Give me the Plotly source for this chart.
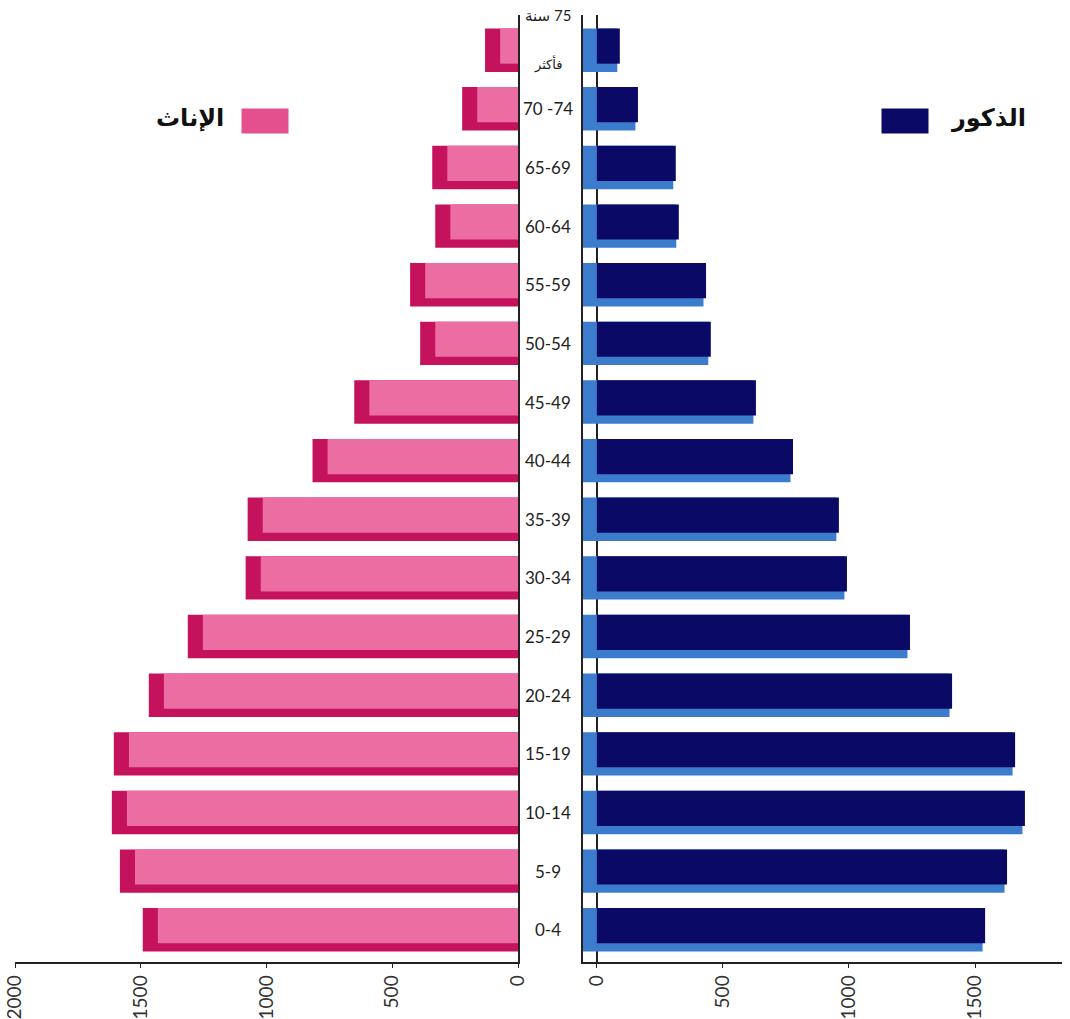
import plotly.graph_objects as go

age_groups = ["0-4", "5-9", "10-14", "15-19", "20-24", "25-29", "30-34", "35-39",
              "40-44", "45-49", "50-54", "55-59", "60-64", "65-69", "70 -74", "75+"]
age_labels = ["0-4", "5-9", "10-14", "15-19", "20-24", "25-29", "30-34", "35-39",
              "40-44", "45-49", "50-54", "55-59", "60-64", "65-69", "70 -74", None]
top_label_line1 = "\u200F75 سنة"
top_label_line2 = "فأكثر"
females = [1492, 1583, 1615, 1607, 1468, 1313, 1083, 1075, 817, 651, 389, 429, 329, 341, 222, 131]
males = [1540, 1627, 1698, 1659, 1409, 1242, 992, 960, 778, 631, 452, 433, 325, 313, 163, 91]
left_ticks = [0, 500, 1000, 1500, 2000]
right_ticks = [0, 500, 1000, 1500]
female_name = "الإناث"
male_name = "الذكور"

F_SIDE = "#c4135c"
F_FRONT = "#ec6da2"
M_SIDE = "#3b7ccd"
M_FRONT = "#0a0a66"
F_DEPTH = 60
M_DEPTH = 55

fig = go.Figure()
# female: dark side/bottom then pink front face
fig.add_trace(go.Bar(y=age_groups, x=females, orientation="h", width=0.74, offset=-0.37,
                     marker=dict(color=F_SIDE, line=dict(width=0)), xaxis="x", yaxis="y",
                     showlegend=False, hoverinfo="skip"))
fig.add_trace(go.Bar(y=age_groups, x=[v - F_DEPTH for v in females], orientation="h",
                     width=0.60, offset=-0.23,
                     marker=dict(color=F_FRONT, line=dict(width=0)), xaxis="x", yaxis="y",
                     showlegend=False, name=female_name))
# male: light blue side/bottom then navy front face
fig.add_trace(go.Bar(y=age_groups, x=[v + M_DEPTH - 10 for v in males], base=-M_DEPTH,
                     orientation="h", width=0.74, offset=-0.37,
                     marker=dict(color=M_SIDE, line=dict(width=0)), xaxis="x2", yaxis="y2",
                     showlegend=False, hoverinfo="skip"))
fig.add_trace(go.Bar(y=age_groups, x=males, base=0, orientation="h", width=0.60, offset=-0.23,
                     marker=dict(color=M_FRONT, line=dict(width=0)), xaxis="x2", yaxis="y2",
                     showlegend=False, name=male_name))

label_font = dict(family="Lato, DejaVu Sans", size=17, color="#222")
annotations = []
for g, lab in zip(age_groups, age_labels):
    if lab is None:
        annotations.append(dict(x=0.512, xref="paper", y=g, yref="y", text=top_label_line1,
                                showarrow=False, xanchor="center", yanchor="middle", yshift=35,
                                font=dict(family="Lato, DejaVu Sans", size=15, color="#222")))
        annotations.append(dict(x=0.512, xref="paper", y=g, yref="y", text=top_label_line2,
                                showarrow=False, xanchor="center", yanchor="middle", yshift=-14,
                                font=dict(family="DejaVu Sans", size=13, color="#222")))
    else:
        annotations.append(dict(x=0.512, xref="paper", y=g, yref="y", text=lab, showarrow=False,
                                xanchor="center", yanchor="middle", font=label_font))
# legend swatches and labels
annotations += [
    dict(x=265 / 1070, y=1 - (121 - 15) / 947, xref="paper", yref="paper", text=" ",
         showarrow=False, width=44, height=22, bgcolor="#e4508e", xanchor="center", yanchor="middle"),
    dict(x=190 / 1070, y=1 - (118 - 15) / 947, xref="paper", yref="paper", text="<b>" + female_name + "</b>",
         showarrow=False, xanchor="center", yanchor="middle",
         font=dict(family="DejaVu Sans", size=24, color="#111")),
    dict(x=905 / 1070, y=1 - (121 - 15) / 947, xref="paper", yref="paper", text=" ",
         showarrow=False, width=44, height=22, bgcolor=M_FRONT, xanchor="center", yanchor="middle"),
    dict(x=988 / 1070, y=1 - (118 - 15) / 947, xref="paper", yref="paper", text="<b>" + male_name + "</b>",
         showarrow=False, xanchor="center", yanchor="middle",
         font=dict(family="DejaVu Sans", size=24, color="#111")),
]

tickfont = dict(family="Lato, DejaVu Sans", size=19, color="#333")
fig.update_layout(
    width=1070, height=1019,
    margin=dict(l=0, r=0, t=15, b=57, autoexpand=False),
    paper_bgcolor="white", plot_bgcolor="white",
    barmode="overlay",
    showlegend=False,
    annotations=annotations,
    xaxis=dict(domain=[15 / 1070, 518 / 1070], range=[2000, 0], tickvals=left_ticks,
               tickangle=-90, showgrid=False, zeroline=False, showline=True, linecolor="#222",
               linewidth=1.5, ticks="outside", ticklen=4, tickcolor="#222", tickfont=tickfont,
               anchor="y", automargin=False),
    xaxis2=dict(domain=[583 / 1070, 1062 / 1070], range=[-M_DEPTH, 1845], tickvals=right_ticks,
                tickangle=-90, showgrid=False, zeroline=True, zerolinecolor="#222", zerolinewidth=1.5,
                showline=True, linecolor="#222", linewidth=1.5, ticks="outside", ticklen=4,
                tickcolor="#222", tickfont=tickfont, anchor="y2", automargin=False),
    yaxis=dict(range=[-0.55, 15.6], showgrid=False, showline=True, linecolor="#222", linewidth=1.5,
               side="right", showticklabels=False, ticks="", anchor="x", zeroline=False,
               automargin=False),
    yaxis2=dict(range=[-0.55, 15.6], matches="y", showgrid=False, showline=True, linecolor="#222",
                linewidth=1.5, side="left", showticklabels=False, ticks="", anchor="x2", zeroline=False,
                automargin=False),
)

fig.write_html("out.html", config={"displayModeBar": False},
               post_script="document.body.style.margin='0';document.body.style.overflow='hidden';")
